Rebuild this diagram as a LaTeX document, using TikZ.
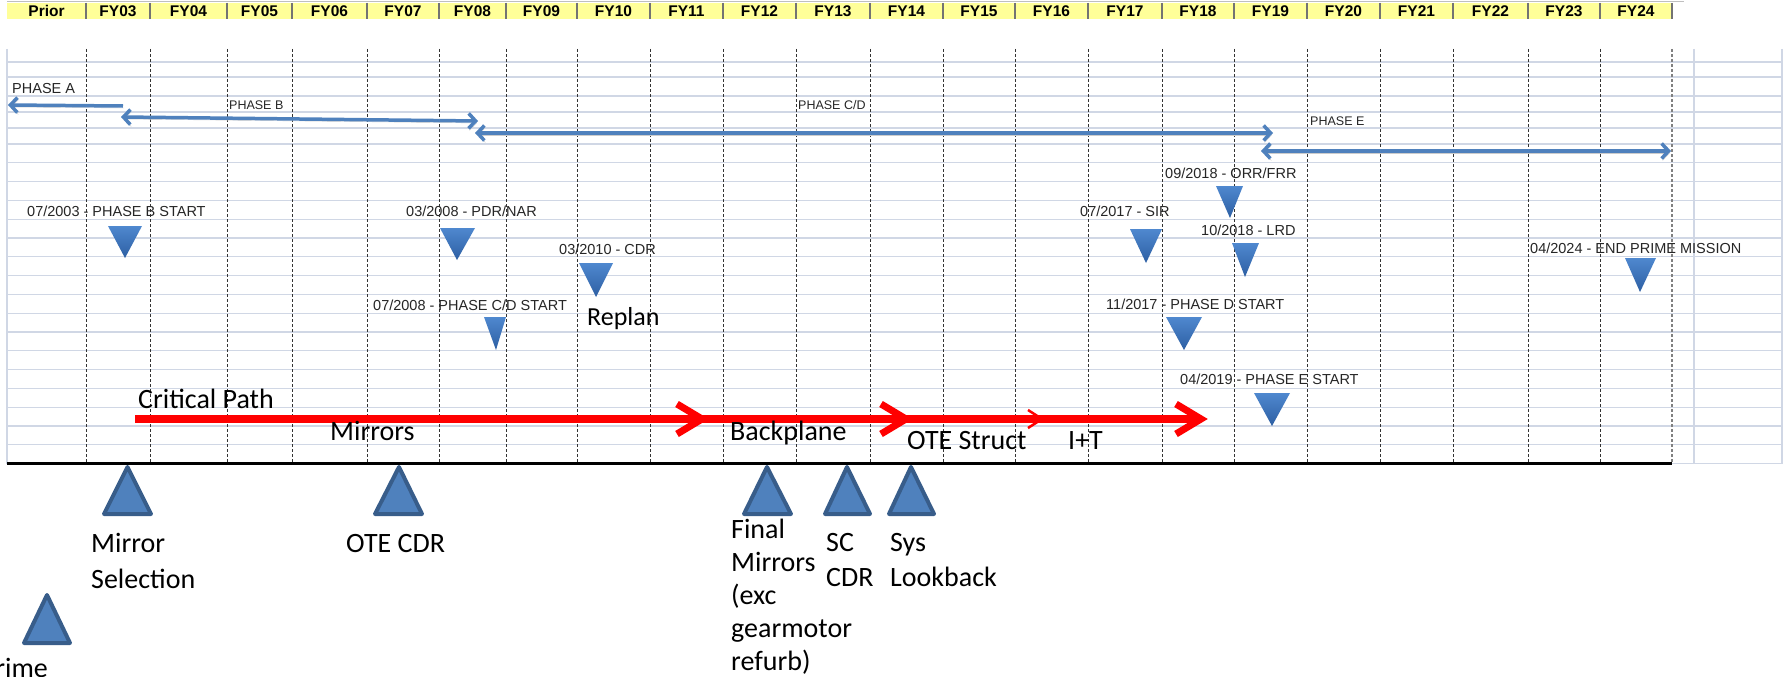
\documentclass[tikz,border=0pt]{standalone}
\usepackage{fontspec}
\setmainfont{Liberation Sans}
\newfontfamily\calfont{Carlito}
\usetikzlibrary{arrows.meta}
\definecolor{hdryellow}{HTML}{FFFF99}
\definecolor{gridblue}{HTML}{D0D7E5}
\definecolor{phaseblue}{HTML}{4F81BD}
\definecolor{triedge}{HTML}{385D8A}
\definecolor{tritop}{HTML}{4F88CF}
\definecolor{tribot}{HTML}{2D5FA3}

\begin{document}
\begin{tikzpicture}[x=1pt, y=-1pt,
  >={Straight Barb[length=7pt,width=15pt]},
  grid/.style={draw=gridblue, line width=1.3pt},
  yrline/.style={densely dashed, black!80, line width=0.9pt},
  hdrsep/.style={draw=black!55, line width=1.5pt},
  hdr/.style={anchor=base, inner sep=0pt, font=\fontsize{15.5}{18}\selectfont\bfseries},
  evt/.style={anchor=base west, inner sep=0pt, text=black!85, font=\fontsize{14.5}{17}\selectfont},
  phlbl/.style={anchor=base west, inner sep=0pt, text=black!85, font=\fontsize{12.5}{15}\selectfont},
  phase/.style={draw=phaseblue, line width=3.5pt,
    preaction={draw=black!20, transform canvas={shift={(1pt,-2pt)}}}},
  big/.style={anchor=base west, inner sep=0pt, align=left, font=\calfont\fontsize{28}{35}\selectfont},
  dtri/.style={top color=tritop, bottom color=tribot},
  utri/.style={fill=phaseblue, draw=triedge, line width=4pt, line join=round},
  crit/.style={draw=red, line width=8pt},
  chev/.style={draw=red, line width=7pt, line join=miter}
]
\useasboundingbox (0,0) rectangle (1783,677);
\clip (0,0) rectangle (1783,677);
\fill[white] (0,0) rectangle (1783,677);

% year header
\fill[hdryellow] (7,3) rectangle (1672,19);
\draw[black!25, line width=1pt] (7,2) -- (1684,2);
\foreach \l/\r/\t in {7/86/Prior, 86/150/FY03, 150/227/FY04, 227/292/FY05,
    292/367/FY06, 367/439/FY07, 439/506/FY08, 506/577/FY09, 577/650/FY10,
    650/723/FY11, 723/796/FY12, 796/870/FY13, 870/943/FY14, 943/1015/FY15,
    1015/1088/FY16, 1088/1162/FY17, 1162/1234/FY18, 1234/1307/FY19,
    1307/1380/FY20, 1380/1453/FY21, 1453/1528/FY22, 1528/1600/FY23,
    1600/1672/FY24} {
  \node[hdr] (h\t) at ({(\l+\r)/2},16.5) {\t};
  \draw[hdrsep] (\r,3) -- (\r,19);
}

% grid
\foreach \y in {62,77,96,112,128} \draw[grid] (7,\y) -- (1783,\y);
\foreach \k in {0,...,16} \draw[grid] (7,{144+18.8*\k}) -- (1783,{144+18.8*\k});
\draw[grid] (1672,463.5) -- (1783,463.5);
\foreach \x in {7,1694,1782} \draw[grid] (\x,49) -- (\x,463.5);
\foreach \x in {86,150,227,292,367,439,506,577,650,723,796,870,943,1015,1088,1162,1234,1307,1380,1453,1528,1600}
  \draw[yrline] (\x,49) -- (\x,463.5);
\draw[yrline, black!50, line width=1.6pt] (1672,49) -- (1672,463.5);
\draw[black, line width=3pt] (7,463.5) -- (1672,463.5);

% phases
\node[evt] (phA) at (12,93.5) {PHASE A};
\node[phlbl] (phB) at (229,109.5) {PHASE B};
\node[phlbl] (phCD) at (798,109.5) {PHASE C/D};
\node[phlbl] (phE) at (1310,125.5) {PHASE E};
\coordinate (a0) at (8,105);
\coordinate (a1) at (123,106);
\coordinate (b0) at (121,117);
\coordinate (b1) at (478,121);
\coordinate (cd0) at (475,133);
\coordinate (cd1) at (1273,133);
\coordinate (e0) at (1261,151);
\coordinate (e1) at (1671,151);
\draw[phase, ->] (a1) -- (a0);
\draw[phase, <->] (b0) -- (b1);
\draw[phase, <->] (cd0) -- (cd1);
\draw[phase, <->] (e0) -- (e1);

% milestones
\node[evt] (ev03) at (27,216) {07/2003 - PHASE B START};
\shade[dtri] (108,226) -- (142,226) -- (125,258) -- cycle;
\node[evt] (evpdr) at (406,216) {03/2008 - PDR/NAR};
\shade[dtri] (440,228) -- (475,228) -- (457,260) -- cycle;
\node[evt] (evcd) at (373,310) {07/2008 - PHASE C/D START};
\shade[dtri] (484,317) -- (506,317) -- (496,350) -- cycle;
\node[evt] (evcdr) at (559,254) {03/2010 - CDR};
\shade[dtri] (579,263) -- (613,263) -- (596,297) -- cycle;
\node[evt] (evorr) at (1165,178) {09/2018 - ORR/FRR};
\shade[dtri] (1216,186) -- (1243,186) -- (1230,218) -- cycle;
\node[evt] (evsir) at (1080,216) {07/2017 - SIR};
\shade[dtri] (1130,229) -- (1162,229) -- (1146,263) -- cycle;
\node[evt] (evlrd) at (1201,235) {10/2018 - LRD};
\shade[dtri] (1232,243) -- (1259,243) -- (1245,277) -- cycle;
\node[evt] (evend) at (1530,253) {04/2024 - END PRIME MISSION};
\shade[dtri] (1625,258) -- (1656,258) -- (1640,292) -- cycle;
\node[evt] (evd) at (1106,309) {11/2017 - PHASE D START};
\shade[dtri] (1166,317) -- (1202,317) -- (1184,350) -- cycle;
\node[evt] (eve) at (1180,384) {04/2019 - PHASE E START};
\shade[dtri] (1254,393) -- (1290,393) -- (1272,426) -- cycle;
\node[big, font=\calfont\fontsize{26}{32}\selectfont] (replan) at (587,325) {Replan};

% critical path
\coordinate (cp0) at (135,419);
\coordinate (cp1) at (1199,419);
\draw[crit] (cp0) -- (cp1);
\foreach \t in {702,906,1201}
  \draw[chev] (\t-25,404) -- (\t,419) -- (\t-25,434);
\draw[red, line width=2.5pt] (1028,410) -- (1042,419) -- (1028,428);
\node[big] (critp) at (138,408) {Critical Path};
\node[big] (mirr) at (330,440) {Mirrors};
\node[big] (backp) at (730,440) {Backplane};
\node[big] (otes) at (907,449) {OTE Struct};
\node[big] (iandt) at (1068,449) {I+T};

% reviews below the line
\draw[utri] (127.5,467) -- (151,514) -- (104,514) -- cycle;
\draw[utri] (399,467) -- (422,514) -- (375,514) -- cycle;
\draw[utri] (767,467) -- (791,514) -- (744,514) -- cycle;
\draw[utri] (847,467) -- (870,514) -- (825,514) -- cycle;
\draw[utri] (911,467) -- (934,514) -- (889,514) -- cycle;
\draw[utri] (47,595) -- (70,643) -- (24,643) -- cycle;
\node[big, font=\calfont\fontsize{28}{36}\selectfont] (mirsel) at (91,588) {Mirror\\Selection};
\node[big] (otecdr) at (346,552) {OTE CDR};
\node[big, font=\calfont\fontsize{28}{33}\selectfont] (finmir) at (731,670) {Final\\Mirrors\\(exc\\gearmotor\\refurb)};
\node[big] (sccdr) at (826,586) {SC\\CDR};
\node[big] (syslb) at (890,586) {Sys\\Lookback};
\node[big, anchor=base east] (prime) at (48,677) {Prime};
\end{tikzpicture}
\end{document}
